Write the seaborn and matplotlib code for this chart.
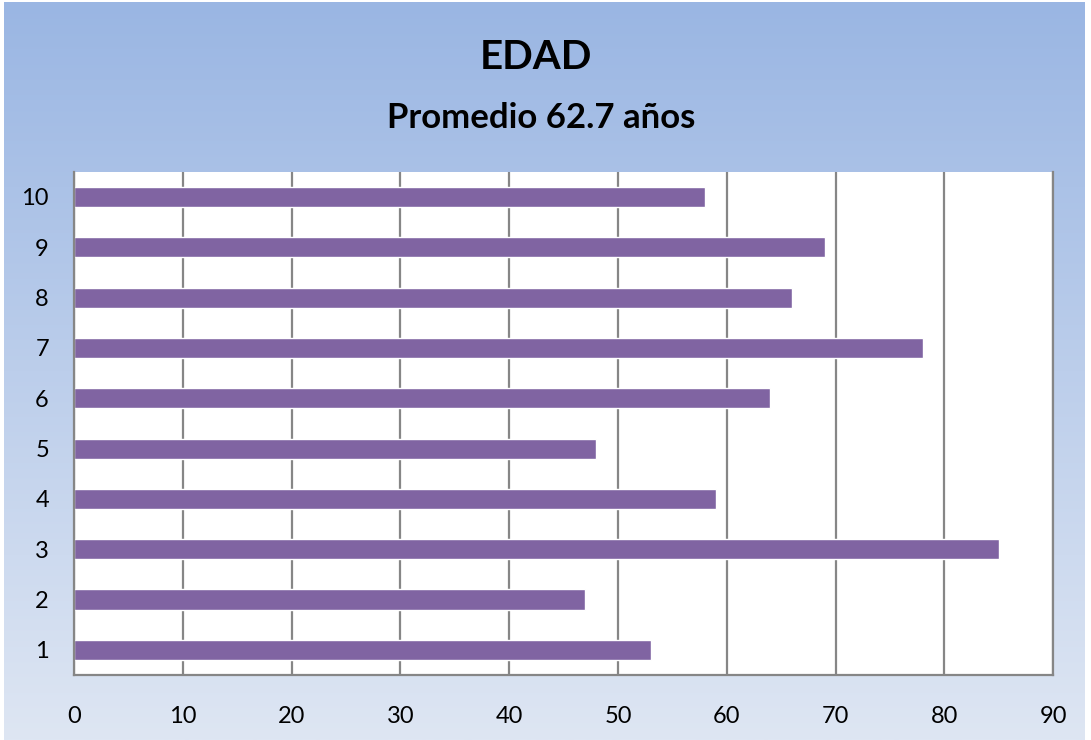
import numpy as np
import pandas as pd
import matplotlib
matplotlib.use("Agg")
import matplotlib.pyplot as plt
from matplotlib.colors import LinearSegmentedColormap
import seaborn as sns

# datos
personas = ["1", "2", "3", "4", "5", "6", "7", "8", "9", "10"]
edades = [53, 47, 85, 59, 48, 64, 78, 66, 69, 58]
xticks = [0, 10, 20, 30, 40, 50, 60, 70, 80, 90]

df = pd.DataFrame({"persona": personas, "edad": edades})

sns.set_theme(style="white")
plt.rcParams["font.family"] = ["Lato", "DejaVu Sans"]

fig = plt.figure(figsize=(10.91, 7.40), dpi=100)

# fondo degradado
bg = fig.add_axes([0.004, 0.0, 0.99, 0.997], zorder=-10)
grad = np.linspace(0, 1, 256).reshape(-1, 1)
cmap = LinearSegmentedColormap.from_list("bg", ["#9AB6E3", "#DEE6F3"])
bg.imshow(grad, aspect="auto", cmap=cmap, extent=[0, 1, 0, 1], origin="upper")
bg.axis("off")

ax = fig.add_axes([0.0678, 0.0878, 0.8975, 0.68])
sns.barplot(data=df, x="edad", y="persona", order=personas[::-1],
            color="#8064A2", saturation=1, width=0.4, orient="h", ax=ax)

ax.set_xlim(0, 90)
ax.set_xticks(xticks)
ax.set_xlabel("")
ax.set_ylabel("")
ax.set_facecolor("white")
ax.grid(axis="x", color="#868686", linewidth=1.6)
ax.grid(axis="y", visible=False)
ax.set_axisbelow(True)
for s in ["left", "bottom", "right"]:
    ax.spines[s].set_color("#868686")
    ax.spines[s].set_linewidth(1.6)
ax.spines["top"].set_visible(False)
ax.tick_params(axis="x", length=0, pad=22, labelsize=17, labelcolor="black")
ax.tick_params(axis="y", length=0, pad=18, labelsize=17, labelcolor="black")

fig.text(0.491, 0.922, "EDAD", ha="center", va="center",
         fontsize=29, fontweight="bold", color="black")
fig.text(0.496, 0.841, "Promedio 62.7 años", ha="center", va="center",
         fontsize=25, fontweight="bold", color="black")

fig.savefig("out.png", dpi=100)
